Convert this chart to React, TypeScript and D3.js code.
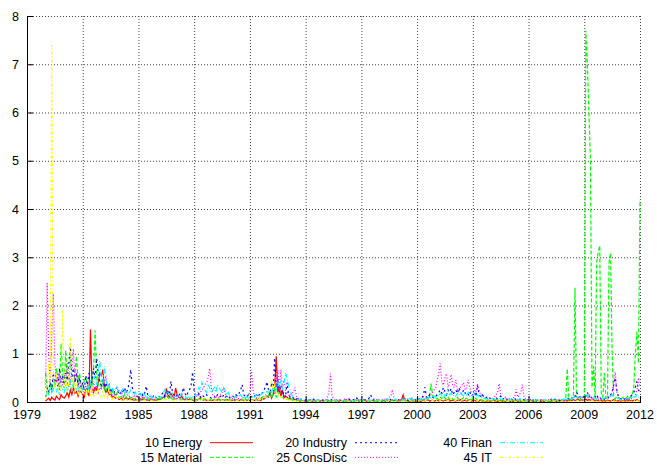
import React from 'react';
import * as d3 from 'd3';

// Monthly values starting Jan 1980, ending Jan 2012
const startYear = 1980;

const energy = [
  0.02,0.05,0.08,0.03,0.10,0.06,0.04,0.12,0.08,0.05,0.15,0.10,
  0.08,0.12,0.20,0.10,0.25,0.15,0.30,0.18,0.22,0.12,0.28,0.20,
  0.15,0.10,0.25,0.30,0.12,1.50,0.35,0.20,0.30,0.25,0.40,0.60,
  0.55,0.67,0.30,0.20,0.25,0.15,0.18,0.10,0.12,0.08,0.10,0.06,
  0.05,0.08,0.04,0.06,0.10,0.05,0.07,0.04,0.06,0.03,0.05,0.04,
  0.03,0.05,0.04,0.06,0.03,0.05,0.04,0.03,0.06,0.04,0.05,0.03,
  0.04,0.06,0.05,0.08,0.10,0.12,0.28,0.15,0.10,0.18,0.12,0.08,
  0.29,0.15,0.10,0.08,0.12,0.06,0.05,0.07,0.04,0.06,0.05,0.04,
  0.03,0.05,0.04,0.06,0.08,0.05,0.04,0.06,0.03,0.05,0.04,0.03,
  0.04,0.03,0.05,0.04,0.06,0.03,0.05,0.04,0.03,0.05,0.04,0.03,
  0.03,0.04,0.03,0.05,0.04,0.03,0.04,0.05,0.03,0.04,0.03,0.04,
  0.03,0.05,0.04,0.03,0.06,0.04,0.05,0.03,0.08,0.06,0.10,0.12,
  0.10,0.20,0.08,0.15,0.30,0.95,0.20,0.35,0.10,0.25,0.08,0.12,
  0.10,0.06,0.08,0.05,0.04,0.06,0.03,0.04,0.02,0.03,0.02,0.03,
  0.02,0.01,0.03,0.02,0.01,0.02,0.03,0.01,0.02,0.01,0.02,0.03,
  0.01,0.02,0.01,0.03,0.02,0.01,0.02,0.01,0.03,0.02,0.01,0.02,
  0.02,0.01,0.02,0.01,0.03,0.02,0.01,0.02,0.01,0.02,0.03,0.01,
  0.01,0.02,0.03,0.01,0.02,0.01,0.02,0.03,0.01,0.02,0.01,0.02,
  0.02,0.01,0.02,0.03,0.01,0.02,0.01,0.02,0.04,0.02,0.01,0.02,
  0.03,0.02,0.05,0.15,0.04,0.02,0.03,0.01,0.02,0.03,0.02,0.01,
  0.02,0.03,0.01,0.02,0.04,0.02,0.03,0.05,0.02,0.03,0.04,0.02,
  0.03,0.04,0.02,0.05,0.03,0.02,0.04,0.03,0.05,0.02,0.03,0.04,
  0.03,0.02,0.04,0.03,0.05,0.02,0.03,0.04,0.02,0.03,0.05,0.02,
  0.03,0.04,0.02,0.03,0.02,0.04,0.02,0.03,0.01,0.02,0.03,0.02,
  0.02,0.01,0.03,0.02,0.01,0.02,0.03,0.01,0.02,0.01,0.02,0.01,
  0.01,0.02,0.01,0.02,0.03,0.01,0.02,0.01,0.02,0.01,0.03,0.02,
  0.01,0.02,0.01,0.01,0.02,0.01,0.02,0.01,0.01,0.02,0.01,0.02,
  0.01,0.02,0.01,0.02,0.01,0.02,0.01,0.03,0.02,0.01,0.02,0.03,
  0.02,0.03,0.02,0.04,0.03,0.05,0.03,0.04,0.06,0.03,0.05,0.04,
  0.04,0.06,0.03,0.05,0.04,0.03,0.05,0.02,0.04,0.03,0.02,0.03,
  0.02,0.03,0.02,0.04,0.03,0.02,0.03,0.05,0.03,0.02,0.03,0.02,
  0.02,0.03,0.02,0.03,0.02,0.04,0.03,0.02,0.04,0.03,0.05,0.03,
  0.02,
];

const material = [
  0.60,0.30,0.15,0.40,0.20,0.50,0.30,0.70,0.45,0.25,1.21,0.60,
  0.35,1.07,0.40,0.30,1.02,0.45,0.30,0.60,0.95,0.40,0.60,0.30,
  0.25,0.45,0.50,0.35,0.20,0.40,0.30,0.70,1.48,0.50,0.35,0.45,
  0.30,0.40,0.25,0.35,0.20,0.30,0.15,0.20,0.25,0.12,0.18,0.10,
  0.10,0.12,0.08,0.15,0.10,0.06,0.12,0.08,0.10,0.06,0.08,0.05,
  0.06,0.08,0.05,0.10,0.06,0.04,0.07,0.05,0.08,0.04,0.06,0.05,
  0.05,0.07,0.10,0.06,0.12,0.08,0.15,0.10,0.06,0.09,0.05,0.07,
  0.06,0.08,0.05,0.07,0.04,0.06,0.05,0.08,0.04,0.06,0.05,0.04,
  0.05,0.06,0.04,0.08,0.05,0.10,0.06,0.04,0.07,0.05,0.04,0.06,
  0.04,0.06,0.05,0.03,0.05,0.04,0.06,0.03,0.05,0.04,0.03,0.05,
  0.04,0.03,0.05,0.04,0.03,0.05,0.04,0.06,0.03,0.04,0.05,0.03,
  0.04,0.05,0.03,0.06,0.04,0.05,0.08,0.06,0.10,0.12,0.08,0.15,
  0.12,0.20,0.08,0.18,0.30,0.10,0.15,0.20,0.12,0.10,0.08,0.06,
  0.05,0.08,0.04,0.06,0.03,0.05,0.03,0.04,0.02,0.03,0.02,0.03,
  0.02,0.03,0.01,0.02,0.04,0.02,0.03,0.01,0.02,0.03,0.02,0.01,
  0.02,0.01,0.03,0.02,0.01,0.02,0.03,0.02,0.01,0.02,0.01,0.03,
  0.02,0.03,0.01,0.02,0.01,0.03,0.02,0.01,0.02,0.04,0.02,0.01,
  0.02,0.01,0.02,0.03,0.02,0.01,0.03,0.02,0.01,0.02,0.03,0.02,
  0.01,0.02,0.03,0.02,0.04,0.02,0.03,0.05,0.03,0.02,0.04,0.03,
  0.02,0.04,0.03,0.05,0.02,0.03,0.04,0.02,0.05,0.03,0.06,0.04,
  0.03,0.05,0.04,0.06,0.03,0.05,0.08,0.06,0.10,0.38,0.15,0.08,
  0.06,0.08,0.05,0.10,0.07,0.12,0.08,0.06,0.10,0.05,0.08,0.06,
  0.05,0.07,0.10,0.06,0.08,0.05,0.09,0.06,0.08,0.05,0.07,0.04,
  0.06,0.05,0.08,0.04,0.06,0.05,0.03,0.05,0.04,0.03,0.05,0.04,
  0.03,0.04,0.02,0.05,0.03,0.04,0.02,0.03,0.04,0.02,0.03,0.02,
  0.03,0.02,0.04,0.03,0.02,0.03,0.04,0.02,0.03,0.02,0.04,0.03,
  0.02,0.03,0.02,0.04,0.03,0.02,0.03,0.02,0.04,0.03,0.02,0.03,
  0.03,0.02,0.04,0.03,0.05,0.03,0.04,0.02,0.03,0.05,0.04,0.03,
  0.05,0.69,0.10,0.05,0.08,0.10,2.37,0.12,0.06,0.10,0.05,0.08,
  0.10,7.70,7.00,6.00,5.00,0.30,0.74,0.10,2.90,3.10,3.24,0.15,
  0.10,0.60,0.08,0.10,2.90,3.09,1.00,0.10,0.06,0.12,0.08,0.05,
  0.06,0.10,0.05,0.08,0.12,0.06,0.10,0.15,0.30,1.00,1.46,0.80,
  4.19,
];

const industry = [
  0.10,0.30,0.20,0.45,0.25,0.60,0.35,0.50,0.30,0.70,0.40,0.55,
  0.30,0.60,0.45,0.80,1.15,0.50,0.70,0.40,0.60,0.35,0.50,0.30,
  0.40,0.25,0.55,0.35,0.60,0.30,0.45,0.70,0.50,0.90,0.60,0.40,
  0.35,0.50,0.30,0.40,0.25,0.35,0.20,0.30,0.18,0.25,0.30,0.20,
  0.15,0.25,0.18,0.30,0.20,0.25,0.40,0.67,0.30,0.20,0.15,0.12,
  0.10,0.15,0.20,0.12,0.18,0.33,0.15,0.10,0.12,0.08,0.15,0.10,
  0.08,0.12,0.10,0.15,0.20,0.12,0.18,0.25,0.15,0.43,0.20,0.12,
  0.10,0.15,0.12,0.20,0.15,0.30,0.18,0.12,0.20,0.25,0.35,0.62,
  0.20,0.15,0.12,0.18,0.10,0.15,0.12,0.10,0.15,0.12,0.10,0.08,
  0.10,0.12,0.08,0.15,0.10,0.12,0.08,0.15,0.10,0.12,0.08,0.10,
  0.08,0.12,0.10,0.15,0.12,0.18,0.25,0.36,0.15,0.12,0.10,0.15,
  0.12,0.10,0.15,0.12,0.18,0.10,0.15,0.20,0.18,0.25,0.30,0.42,
  0.25,0.15,0.40,0.20,0.91,0.30,0.45,0.20,0.35,0.15,0.20,0.10,
  0.40,0.15,0.10,0.12,0.08,0.10,0.06,0.08,0.05,0.06,0.04,0.05,
  0.04,0.06,0.03,0.05,0.04,0.06,0.03,0.05,0.04,0.03,0.05,0.04,
  0.03,0.05,0.04,0.03,0.06,0.04,0.05,0.03,0.04,0.06,0.03,0.04,
  0.04,0.03,0.05,0.04,0.06,0.03,0.04,0.05,0.03,0.08,0.04,0.03,
  0.05,0.04,0.06,0.03,0.05,0.08,0.15,0.06,0.04,0.05,0.03,0.04,
  0.04,0.05,0.03,0.06,0.04,0.05,0.08,0.04,0.06,0.03,0.05,0.04,
  0.05,0.03,0.04,0.06,0.04,0.05,0.03,0.06,0.04,0.08,0.05,0.04,
  0.06,0.08,0.05,0.10,0.12,0.31,0.10,0.08,0.15,0.12,0.10,0.08,
  0.12,0.15,0.20,0.25,0.18,0.30,0.22,0.15,0.25,0.20,0.28,0.15,
  0.20,0.25,0.18,0.30,0.22,0.15,0.25,0.18,0.20,0.15,0.22,0.12,
  0.15,0.20,0.12,0.35,0.18,0.10,0.15,0.12,0.08,0.10,0.06,0.08,
  0.06,0.08,0.05,0.10,0.06,0.08,0.12,0.05,0.07,0.04,0.06,0.05,
  0.04,0.06,0.05,0.08,0.04,0.06,0.05,0.07,0.04,0.05,0.03,0.05,
  0.04,0.05,0.03,0.04,0.06,0.03,0.05,0.04,0.03,0.05,0.04,0.03,
  0.03,0.04,0.05,0.03,0.04,0.06,0.04,0.05,0.03,0.04,0.06,0.05,
  0.05,0.08,0.06,0.10,0.08,0.06,0.12,0.20,0.15,0.10,0.12,0.08,
  0.15,0.12,0.20,0.10,0.15,0.08,0.12,0.10,0.15,0.08,0.10,0.06,
  0.08,0.06,0.10,0.12,0.08,0.15,0.20,0.35,0.50,0.25,0.12,0.08,
  0.06,0.08,0.05,0.10,0.06,0.08,0.12,0.15,0.20,0.30,0.43,0.25,
  0.20,
];

const consDisc = [
  0.30,2.47,1.00,0.40,1.40,2.24,0.80,0.40,0.60,0.30,0.50,0.35,
  0.60,0.40,0.80,0.50,0.35,0.70,1.10,0.40,0.60,0.30,0.45,0.25,
  0.30,0.20,0.35,0.15,0.25,0.30,0.20,0.40,0.25,0.35,0.20,0.30,
  0.25,0.35,0.40,0.55,0.30,0.20,0.25,0.15,0.20,0.12,0.18,0.25,
  0.15,0.20,0.12,0.18,0.25,0.15,0.10,0.12,0.08,0.15,0.10,0.12,
  0.08,0.10,0.06,0.12,0.08,0.05,0.10,0.06,0.08,0.05,0.07,0.06,
  0.05,0.08,0.06,0.10,0.07,0.12,0.15,0.10,0.08,0.12,0.10,0.06,
  0.08,0.06,0.10,0.05,0.08,0.06,0.04,0.07,0.05,0.08,0.10,0.06,
  0.08,0.10,0.15,0.12,0.20,0.25,0.30,0.35,0.40,0.50,0.69,0.30,
  0.15,0.10,0.12,0.08,0.10,0.15,0.20,0.30,0.18,0.12,0.10,0.08,
  0.06,0.08,0.05,0.10,0.06,0.08,0.05,0.07,0.10,0.08,0.12,0.15,
  0.20,0.67,0.25,0.12,0.08,0.10,0.06,0.08,0.10,0.12,0.15,0.10,
  0.12,0.15,0.20,0.25,0.15,0.40,0.66,0.25,0.67,0.30,0.45,0.25,
  0.20,0.15,0.12,0.18,0.20,0.30,0.12,0.08,0.06,0.05,0.04,0.03,
  0.03,0.02,0.04,0.03,0.05,0.02,0.03,0.04,0.02,0.03,0.02,0.04,
  0.03,0.05,0.10,0.20,0.59,0.15,0.05,0.03,0.04,0.02,0.05,0.03,
  0.04,0.06,0.03,0.08,0.05,0.03,0.04,0.02,0.05,0.03,0.04,0.06,
  0.03,0.05,0.04,0.02,0.03,0.05,0.04,0.03,0.06,0.04,0.05,0.03,
  0.04,0.03,0.05,0.06,0.04,0.08,0.10,0.12,0.25,0.10,0.06,0.05,
  0.04,0.06,0.03,0.05,0.08,0.04,0.06,0.05,0.10,0.06,0.04,0.05,
  0.06,0.04,0.08,0.05,0.10,0.06,0.08,0.12,0.10,0.15,0.20,0.25,
  0.30,0.45,0.60,0.80,0.40,0.35,0.50,0.59,0.30,0.40,0.57,0.35,
  0.30,0.46,0.25,0.20,0.30,0.35,0.40,0.25,0.30,0.46,0.30,0.20,
  0.15,0.25,0.20,0.38,0.25,0.15,0.10,0.12,0.08,0.10,0.06,0.08,
  0.06,0.08,0.10,0.15,0.20,0.38,0.15,0.08,0.06,0.10,0.05,0.08,
  0.06,0.04,0.08,0.10,0.26,0.10,0.15,0.20,0.36,0.12,0.06,0.05,
  0.04,0.06,0.03,0.05,0.04,0.06,0.03,0.05,0.04,0.03,0.05,0.04,
  0.03,0.05,0.04,0.06,0.03,0.05,0.04,0.03,0.06,0.04,0.05,0.03,
  0.04,0.06,0.05,0.08,0.06,0.10,0.08,0.12,0.10,0.08,0.12,0.10,
  0.08,0.12,0.10,0.15,0.10,0.08,0.06,0.08,0.05,0.06,0.08,0.05,
  0.06,0.05,0.08,0.06,0.10,0.12,0.20,0.40,0.62,0.20,0.10,0.08,
  0.06,0.05,0.08,0.06,0.04,0.06,0.05,0.08,0.10,0.15,0.25,0.50,
  0.30,
];

const finan = [
  0.10,0.20,0.15,0.30,0.20,0.25,0.40,0.20,0.30,0.15,0.35,0.25,
  0.20,0.35,0.25,0.30,0.45,0.20,0.40,0.30,0.25,0.35,0.20,0.30,
  0.25,0.30,0.20,0.35,0.25,0.45,0.30,0.40,0.55,0.35,0.60,0.86,
  0.50,0.40,0.74,0.45,0.30,0.35,0.25,0.30,0.20,0.25,0.30,0.20,
  0.25,0.20,0.30,0.18,0.22,0.15,0.20,0.25,0.18,0.15,0.20,0.12,
  0.15,0.18,0.12,0.20,0.15,0.10,0.12,0.15,0.10,0.08,0.12,0.10,
  0.10,0.12,0.08,0.15,0.20,0.25,0.18,0.22,0.15,0.12,0.18,0.10,
  0.12,0.10,0.15,0.12,0.18,0.10,0.12,0.08,0.10,0.12,0.08,0.10,
  0.12,0.15,0.20,0.30,0.25,0.40,0.30,0.25,0.20,0.35,0.30,0.20,
  0.25,0.30,0.20,0.35,0.30,0.25,0.20,0.30,0.25,0.15,0.20,0.12,
  0.10,0.12,0.08,0.15,0.10,0.12,0.15,0.10,0.08,0.12,0.10,0.08,
  0.10,0.08,0.12,0.10,0.15,0.12,0.10,0.15,0.18,0.20,0.15,0.22,
  0.20,0.25,0.18,0.30,0.35,0.25,0.40,0.30,0.45,0.25,0.40,0.60,
  0.50,0.35,0.25,0.15,0.10,0.08,0.06,0.05,0.04,0.05,0.03,0.04,
  0.04,0.03,0.05,0.02,0.04,0.03,0.02,0.04,0.03,0.05,0.02,0.03,
  0.03,0.02,0.04,0.03,0.05,0.02,0.03,0.04,0.02,0.03,0.04,0.02,
  0.03,0.04,0.02,0.05,0.03,0.02,0.04,0.03,0.02,0.04,0.03,0.05,
  0.02,0.03,0.04,0.02,0.05,0.03,0.04,0.02,0.03,0.05,0.02,0.04,
  0.03,0.05,0.02,0.04,0.03,0.06,0.04,0.03,0.05,0.04,0.06,0.03,
  0.04,0.03,0.06,0.04,0.05,0.03,0.06,0.04,0.07,0.05,0.04,0.06,
  0.05,0.07,0.04,0.08,0.06,0.10,0.08,0.06,0.12,0.08,0.10,0.12,
  0.10,0.15,0.12,0.18,0.14,0.20,0.12,0.16,0.22,0.15,0.18,0.12,
  0.15,0.12,0.18,0.14,0.20,0.16,0.12,0.18,0.15,0.20,0.12,0.15,
  0.12,0.18,0.10,0.15,0.12,0.08,0.10,0.07,0.09,0.06,0.08,0.05,
  0.06,0.08,0.05,0.07,0.06,0.09,0.05,0.06,0.04,0.07,0.05,0.04,
  0.05,0.04,0.06,0.05,0.03,0.05,0.04,0.06,0.03,0.05,0.04,0.03,
  0.04,0.03,0.05,0.04,0.03,0.04,0.05,0.03,0.04,0.03,0.05,0.04,
  0.03,0.04,0.03,0.05,0.04,0.03,0.05,0.04,0.06,0.04,0.05,0.06,
  0.05,0.07,0.06,0.08,0.06,0.10,0.08,0.07,0.12,0.09,0.10,0.08,
  0.10,0.12,0.15,0.10,0.08,0.12,0.10,0.08,0.06,0.08,0.10,0.07,
  0.06,0.08,0.10,0.07,0.09,0.12,0.15,0.10,0.08,0.06,0.08,0.06,
  0.05,0.07,0.06,0.08,0.06,0.09,0.07,0.10,0.12,0.10,0.15,0.10,
  0.08,
];

const it = [
  0.05,0.30,0.80,0.40,7.40,0.50,0.30,0.60,0.20,0.40,0.25,1.91,
  0.30,0.50,0.20,0.40,1.33,0.30,0.50,0.20,0.40,0.15,0.30,0.20,
  0.15,0.25,0.10,0.30,0.20,0.15,0.35,0.10,0.20,0.15,0.25,0.10,
  0.12,0.20,0.10,0.15,0.08,0.30,0.10,0.05,0.12,0.08,0.10,0.06,
  0.05,0.04,0.06,0.03,0.05,0.04,0.06,0.03,0.05,0.04,0.03,0.04,
  0.03,0.04,0.02,0.05,0.03,0.04,0.02,0.03,0.04,0.02,0.03,0.02,
  0.03,0.02,0.04,0.03,0.05,0.03,0.06,0.04,0.03,0.05,0.03,0.02,
  0.03,0.04,0.02,0.03,0.05,0.03,0.02,0.04,0.03,0.02,0.03,0.04,
  0.03,0.02,0.04,0.05,0.03,0.06,0.04,0.08,0.05,0.04,0.06,0.03,
  0.04,0.03,0.05,0.04,0.03,0.05,0.04,0.03,0.04,0.02,0.03,0.02,
  0.02,0.03,0.02,0.04,0.03,0.02,0.03,0.04,0.02,0.03,0.02,0.03,
  0.03,0.02,0.04,0.03,0.05,0.04,0.06,0.05,0.08,0.06,0.10,0.15,
  0.20,0.30,0.45,0.25,0.35,0.20,0.15,0.10,0.12,0.08,0.06,0.05,
  0.06,0.04,0.05,0.03,0.04,0.02,0.03,0.02,0.01,0.02,0.01,0.02,
  0.01,0.02,0.01,0.01,0.02,0.01,0.02,0.01,0.01,0.02,0.01,0.01,
  0.02,0.01,0.01,0.02,0.01,0.02,0.01,0.01,0.02,0.01,0.01,0.02,
  0.01,0.01,0.02,0.01,0.02,0.01,0.01,0.02,0.01,0.01,0.02,0.01,
  0.01,0.02,0.01,0.01,0.02,0.01,0.02,0.01,0.01,0.02,0.01,0.01,
  0.02,0.01,0.01,0.02,0.01,0.01,0.02,0.01,0.02,0.01,0.01,0.02,
  0.01,0.02,0.01,0.02,0.01,0.01,0.02,0.03,0.02,0.01,0.02,0.03,
  0.02,0.03,0.02,0.04,0.03,0.02,0.04,0.03,0.05,0.03,0.04,0.03,
  0.03,0.04,0.03,0.05,0.04,0.03,0.05,0.04,0.03,0.04,0.05,0.03,
  0.04,0.03,0.05,0.04,0.03,0.04,0.05,0.03,0.04,0.03,0.04,0.03,
  0.03,0.04,0.02,0.03,0.04,0.02,0.03,0.02,0.03,0.02,0.03,0.02,
  0.02,0.01,0.02,0.03,0.01,0.02,0.01,0.02,0.01,0.02,0.01,0.02,
  0.01,0.02,0.01,0.02,0.01,0.01,0.02,0.01,0.02,0.01,0.02,0.01,
  0.01,0.02,0.01,0.01,0.02,0.01,0.01,0.02,0.01,0.02,0.01,0.01,
  0.02,0.01,0.02,0.01,0.01,0.02,0.01,0.02,0.01,0.01,0.02,0.01,
  0.01,0.02,0.01,0.02,0.03,0.02,0.01,0.02,0.03,0.02,0.01,0.02,
  0.02,0.03,0.02,0.01,0.02,0.03,0.02,0.01,0.02,0.01,0.02,0.01,
  0.01,0.02,0.01,0.02,0.01,0.02,0.03,0.02,0.01,0.02,0.01,0.02,
  0.01,0.02,0.01,0.02,0.01,0.02,0.01,0.02,0.03,0.02,0.03,0.02,
  0.02,
];

const seriesNames = ['10 Energy', '15 Material', '20 Industry', '25 ConsDisc', '40 Finan', '45 IT'];
const seriesValues = [energy, material, industry, consDisc, finan, it];
const seriesColors = ['#ff0000', '#00ff00', '#0000ff', '#ff00ff', '#00ffff', '#ffff00'];
const seriesDash = ['', '4,2', '2,3', '1,2', '5,2,1,2', '3,2,1,2'];

const xTicks = [1979, 1982, 1985, 1988, 1991, 1994, 1997, 2000, 2003, 2006, 2009, 2012];
const yTicks = [0, 1, 2, 3, 4, 5, 6, 7, 8];

export default function App() {
  const W = 657, H = 467;
  const left = 27, right = 640, top = 16, bottom = 402;
  const x = d3.scaleLinear().domain([1979, 2012]).range([left, right]);
  const y = d3.scaleLinear().domain([0, 8]).range([bottom, top]);
  const line = d3.line<number>()
    .x((_, i) => x(startYear + i / 12))
    .y((d) => y(d));
  const font = '"Liberation Sans", Arial, Helvetica, sans-serif';

  const legendCols = [202, 347, 492];
  const legendRows = [442.7, 457.3];

  return (
    <svg width={W} height={H} style={{ position: 'absolute', left: 0, top: 0, background: '#fff' }}
      fontFamily={font} fontSize={12.5}>
      <defs>
        <clipPath id="plotclip">
          <rect x={left} y={top - 1} width={right - left + 1} height={bottom - top + 1} />
        </clipPath>
      </defs>
      <rect x={0} y={0} width={W} height={H} fill="#fff" />
      {/* grid */}
      {yTicks.map((t) => (
        <line key={'gy' + t} x1={left} x2={right} y1={y(t) + 0.5} y2={y(t) + 0.5}
          stroke="#444" strokeWidth={1} strokeDasharray="1,2" />
      ))}
      {xTicks.map((t) => (
        <line key={'gx' + t} x1={x(t) + 0.5} x2={x(t) + 0.5} y1={top} y2={bottom}
          stroke="#444" strokeWidth={1} strokeDasharray="1,2" />
      ))}
      {/* series */}
      <g clipPath="url(#plotclip)">
        {seriesValues.map((vals, k) => (
          <path key={'s' + k} d={line(vals) || ''} fill="none" stroke={seriesColors[k]}
            strokeWidth={1.2} strokeDasharray={seriesDash[k] || undefined} />
        ))}
      </g>
      {/* axes */}
      <line x1={left + 0.5} x2={left + 0.5} y1={top} y2={bottom + 0.5} stroke="#000" strokeWidth={1} />
      <line x1={left} x2={right + 1} y1={bottom + 0.5} y2={bottom + 0.5} stroke="#000" strokeWidth={1.2} />
      {yTicks.map((t) => (
        <g key={'ty' + t}>
          <line x1={left} x2={left + 6} y1={y(t) + 0.5} y2={y(t) + 0.5} stroke="#000" />
          <text x={19} y={y(t) + 4.5} textAnchor="end" fill="#000">{t}</text>
        </g>
      ))}
      {xTicks.map((t) => (
        <g key={'tx' + t}>
          <line x1={x(t) + 0.5} x2={x(t) + 0.5} y1={bottom} y2={bottom - 6} stroke="#000" />
          <text x={x(t)} y={419} textAnchor="middle" fill="#000">{t}</text>
        </g>
      ))}
      {/* legend */}
      {seriesNames.map((name, k) => {
        const cx = legendCols[Math.floor(k / 2)];
        const cy = legendRows[k % 2];
        return (
          <g key={'lg' + k}>
            <text x={cx} y={cy + 4.5} textAnchor="end" fill="#000">{name}</text>
            <line x1={cx + 8} x2={cx + 51} y1={cy} y2={cy} stroke={seriesColors[k]}
              strokeWidth={1} strokeDasharray={seriesDash[k] || undefined} />
          </g>
        );
      })}
    </svg>
  );
}
